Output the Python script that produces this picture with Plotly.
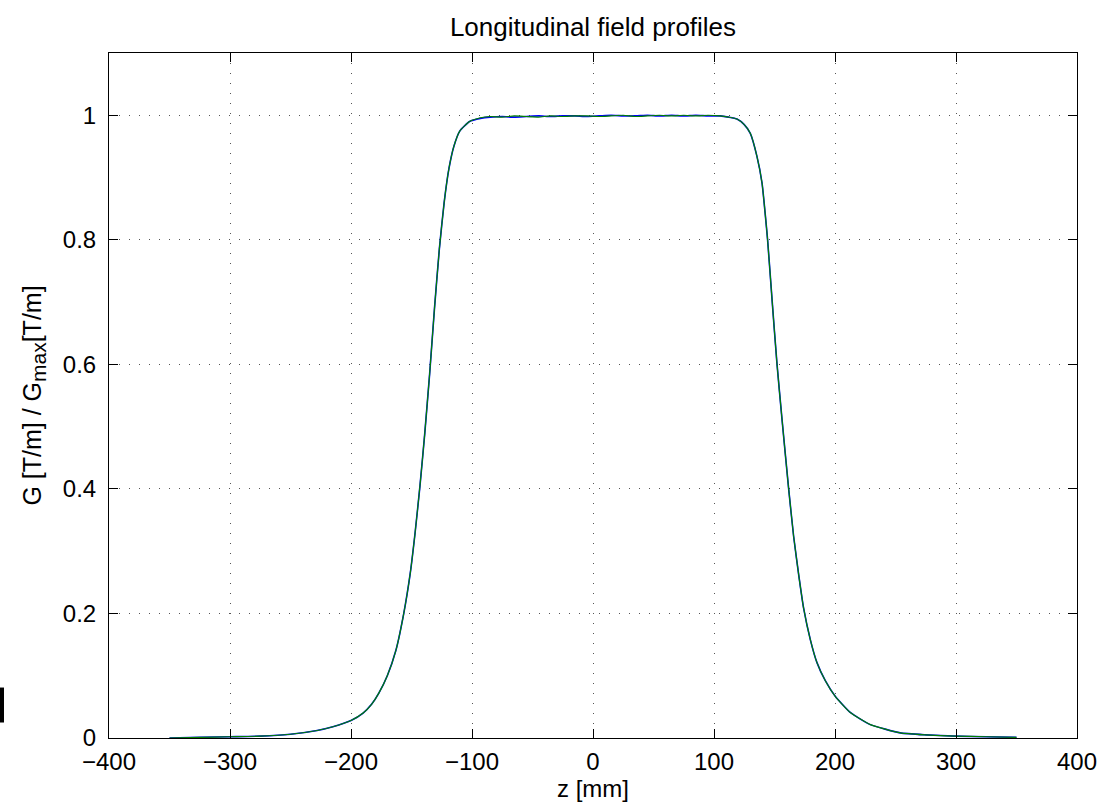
import plotly.graph_objects as go

# z positions [mm]
z = [-350, -325, -300, -275, -250, -228, -215, -200, -190, -183, -177, -170, -163, -156.5, -151, -147, -143,
     -139, -135, -131, -127, -123, -119, -115, -110, -102, -93,
     -85, -75, -65, -55, -45, -35, -25, -15, -5, 5, 15, 25, 35, 45, 55, 65, 75, 85, 95, 105,
     112, 119, 125, 130, 135.5, 139.7, 142.4, 144.3, 147.9, 152, 156.2, 161.7, 165.8, 170, 174.1,
     179.6, 185.1, 192, 200.2, 212.6, 229.2, 254, 275, 299.4, 325, 350]

g_blue = [0.000, 0.001, 0.002, 0.003, 0.006, 0.012, 0.018, 0.028, 0.040, 0.054, 0.072, 0.100, 0.140, 0.199, 0.265, 0.330, 0.405,
          0.490, 0.585, 0.690, 0.785, 0.860, 0.915, 0.950, 0.975, 0.990, 0.995,
          0.997, 0.998, 0.997, 0.998, 0.999, 0.998, 0.999, 0.999, 0.998, 0.999, 1.000, 0.999, 0.999, 1.000, 0.999, 1.000, 0.999, 1.000, 0.999, 0.999,
          0.997, 0.994, 0.985, 0.971, 0.934, 0.891, 0.840, 0.800, 0.706, 0.602, 0.512, 0.400, 0.324, 0.262, 0.208,
          0.158, 0.121, 0.092, 0.067, 0.041, 0.0215, 0.0082, 0.005, 0.003, 0.002, 0.001]

g_green = [0.000, 0.001, 0.002, 0.003, 0.006, 0.012, 0.018, 0.028, 0.040, 0.054, 0.072, 0.100, 0.140, 0.199, 0.265, 0.330, 0.405,
           0.490, 0.585, 0.690, 0.785, 0.860, 0.915, 0.950, 0.975, 0.990, 0.996,
           0.998, 0.997, 0.999, 0.998, 0.997, 0.999, 0.998, 0.999, 0.999, 0.998, 0.999, 1.000, 0.998, 0.999, 1.000, 0.999, 1.000, 0.999, 1.000, 0.999,
           0.997, 0.994, 0.985, 0.971, 0.934, 0.891, 0.840, 0.800, 0.706, 0.602, 0.512, 0.400, 0.324, 0.262, 0.208,
           0.158, 0.121, 0.092, 0.067, 0.041, 0.0215, 0.0082, 0.005, 0.003, 0.002, 0.001]

x_ticks = [-400, -300, -200, -100, 0, 100, 200, 300, 400]
y_ticks = [0, 0.2, 0.4, 0.6, 0.8, 1]
y_tick_labels = ["0", "0.2", "0.4", "0.6", "0.8", "1"]

FONT = "Liberation Sans, Arial, Helvetica, sans-serif"
FS = 24

fig = go.Figure()
fig.add_trace(go.Scatter(x=z, y=g_blue, mode="lines",
                         line=dict(color="#0000ff", width=1.6, shape="spline", smoothing=0.5),
                         showlegend=False))
fig.add_trace(go.Scatter(x=z, y=g_green, mode="lines",
                         line=dict(color="#008000", width=1.2, shape="spline", smoothing=0.5),
                         showlegend=False))

W, H = 1117, 807
ml, mr, mt, mb = 109, 40, 53, 68.5
pw, ph = W - ml - mr, H - mt - mb

axis_common = dict(showline=True, linecolor="black", linewidth=1, mirror="ticks",
                   ticks="inside", ticklen=9, tickcolor="black", tickwidth=1,
                   showgrid=True, gridcolor="#555555", griddash="1px,9px", gridwidth=1,
                   zeroline=False, tickfont=dict(family=FONT, size=FS, color="black"))

fig.update_xaxes(range=[-400, 400], tickvals=x_ticks, ticktext=[f"{v}".replace("-", "\u2212") for v in x_ticks],
                 ticklabelstandoff=2,
                 title=dict(text="z [mm]", font=dict(family=FONT, size=FS, color="black"), standoff=0),
                 **axis_common)
fig.update_yaxes(range=[0, 1.1], tickvals=y_ticks, ticktext=y_tick_labels,
                 ticklabelstandoff=7,
                 title=dict(text="G [T/m] / G<sub><span style='font-size:21px'>max</span></sub>[T/m]",
                            font=dict(family=FONT, size=25, color="black"), standoff=14),
                 **axis_common)

# small clipped glyph at the left edge of the original image
fig.add_shape(type="rect", xref="paper", yref="paper",
              x0=(0 - ml) / pw, x1=(4 - ml) / pw,
              y0=(H - mb - 723) / ph, y1=(H - mb - 688) / ph,
              fillcolor="black", line=dict(width=0), layer="above")

fig.update_layout(
    width=W, height=H,
    margin=dict(l=ml, r=mr, t=mt, b=mb, pad=0),
    paper_bgcolor="white", plot_bgcolor="white",
    title=dict(text="Longitudinal field profiles", x=(ml + pw / 2) / W, xanchor="center",
               y=1 - 27 / H, yanchor="middle", font=dict(family=FONT, size=26, color="black")),
    font=dict(family=FONT, color="black"),
)

fig.write_html("out.html")
